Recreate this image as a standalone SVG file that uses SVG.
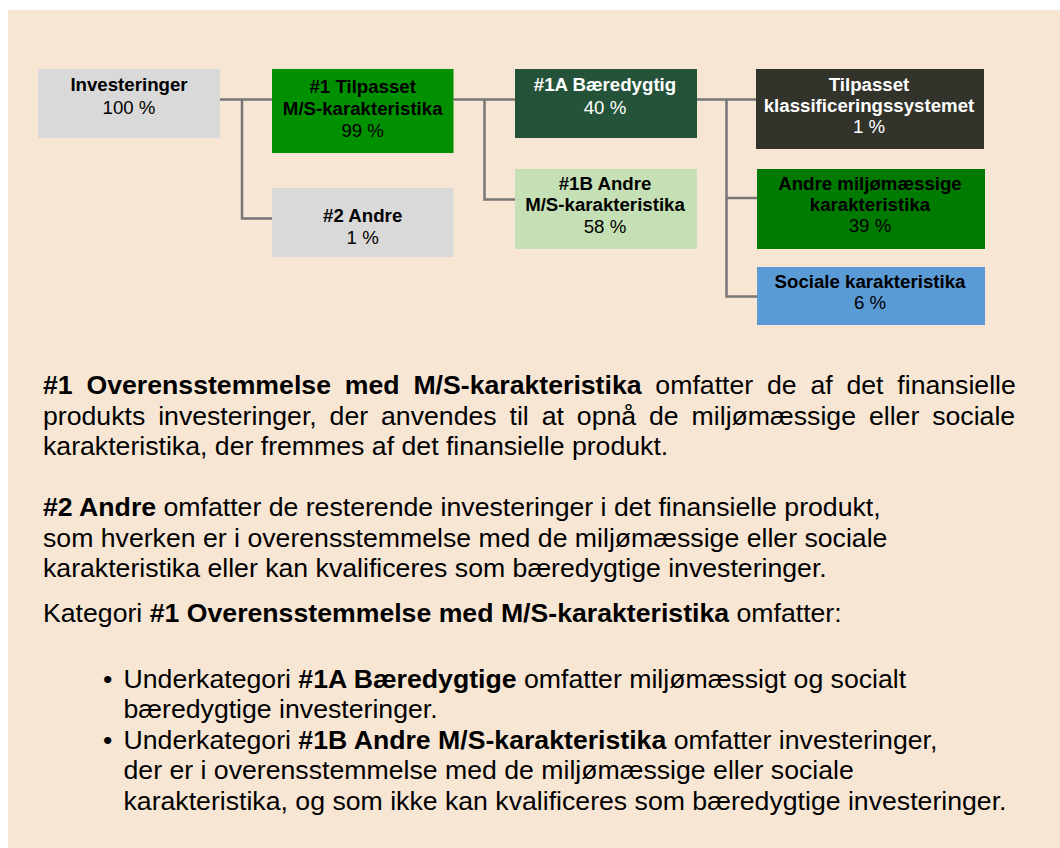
<svg xmlns="http://www.w3.org/2000/svg" width="1060" height="848" viewBox="0 0 1060 848">
<style>
.n{font-family:"Liberation Sans",Arial,sans-serif;text-anchor:middle;fill:#000;font-size:18.67px}
.b{font-weight:bold}
.w{fill:#fff}
.c{fill:none;stroke:#767676;stroke-width:2.5}
.t{font-family:"Liberation Sans",Arial,sans-serif;font-size:26.67px;fill:#000}
</style>
<rect x="8" y="10" width="1052" height="838" fill="#F8E6D4"/>
<g id="connectors" class="c">
<path d="M220 99.5H272M242 99.5V218.5H272"/>
<path d="M453.5 99.5H515M484.5 99.5V199.5H515"/>
<path d="M697 99.5H756M726.5 99.5V296.5H757M726.5 198H757"/>
</g>
<g id="investeringer">
<rect x="38" y="69" width="182" height="69" fill="#D9D9D9"/>
<text class="n" x="129" y="91"><tspan class="b">Investeringer</tspan><tspan x="129" y="114">100 %</tspan></text>
</g>
<g id="n1">
<rect x="272" y="69" width="181.5" height="84" fill="#009000"/>
<text class="n" x="362.7" y="93"><tspan class="b">#1 Tilpasset</tspan><tspan class="b" x="362.7" y="115">M/S-karakteristika</tspan><tspan x="362.7" y="136.5">99 %</tspan></text>
</g>
<g id="n2">
<rect x="272" y="188" width="181.5" height="69" fill="#D9D9D9"/>
<text class="n" x="362.7" y="221.5"><tspan class="b">#2 Andre</tspan><tspan x="362.7" y="243.5">1 %</tspan></text>
</g>
<g id="n1a">
<rect x="515" y="69" width="182" height="69" fill="#245339"/>
<text class="n w" x="605" y="91"><tspan class="b">#1A Bæredygtig</tspan><tspan x="605" y="114">40 %</tspan></text>
</g>
<g id="n1b">
<rect x="515" y="169" width="182" height="80" fill="#C5E0B4"/>
<text class="n" x="605" y="190"><tspan class="b">#1B Andre</tspan><tspan class="b" x="605" y="211">M/S-karakteristika</tspan><tspan x="605" y="232.5">58 %</tspan></text>
</g>
<g id="tilpasset">
<rect x="756" y="69" width="228" height="80" fill="#32332B"/>
<text class="n w" x="869" y="90.5"><tspan class="b">Tilpasset</tspan><tspan class="b" x="869" y="111.5">klassificeringssystemet</tspan><tspan x="869" y="132.5">1 %</tspan></text>
</g>
<g id="andre-miljo">
<rect x="757" y="169" width="228" height="80" fill="#007A00"/>
<text class="n" x="870" y="189.5"><tspan class="b">Andre miljømæssige</tspan><tspan class="b" x="870" y="211">karakteristika</tspan><tspan x="870" y="232">39 %</tspan></text>
</g>
<g id="sociale">
<rect x="757" y="267" width="228" height="58" fill="#5B9BD5"/>
<text class="n" x="870" y="288"><tspan class="b">Sociale karakteristika</tspan><tspan x="870" y="309">6 %</tspan></text>
</g>
<g id="text">
<text class="t" x="43" y="393.5" word-spacing="6.4"><tspan class="b">#1 Overensstemmelse med M/S-karakteristika</tspan> omfatter de af det finansielle</text>
<text class="t" x="43" y="424.5" word-spacing="5.5">produkts investeringer, der anvendes til at opnå de miljømæssige eller sociale</text>
<text class="t" x="43" y="455">karakteristika, der fremmes af det finansielle produkt.</text>
<text class="t" x="43" y="516"><tspan class="b">#2 Andre</tspan> omfatter de resterende investeringer i det finansielle produkt,</text>
<text class="t" x="43" y="546.5">som hverken er i overensstemmelse med de miljømæssige eller sociale</text>
<text class="t" x="43" y="577">karakteristika eller kan kvalificeres som bæredygtige investeringer.</text>
<text class="t" x="43" y="621.5">Kategori <tspan class="b">#1 Overensstemmelse med M/S-karakteristika</tspan> omfatter:</text>
<text class="t" x="103" y="688">•</text>
<text class="t" x="123.5" y="688">Underkategori <tspan class="b">#1A Bæredygtige</tspan> omfatter miljømæssigt og socialt</text>
<text class="t" x="123.5" y="718.4">bæredygtige investeringer.</text>
<text class="t" x="103" y="748.8">•</text>
<text class="t" x="123.5" y="748.8">Underkategori <tspan class="b">#1B Andre M/S-karakteristika</tspan> omfatter investeringer,</text>
<text class="t" x="123.5" y="779.2">der er i overensstemmelse med de miljømæssige eller sociale</text>
<text class="t" x="123.5" y="809.6">karakteristika, og som ikke kan kvalificeres som bæredygtige investeringer.</text>
</g>
</svg>
